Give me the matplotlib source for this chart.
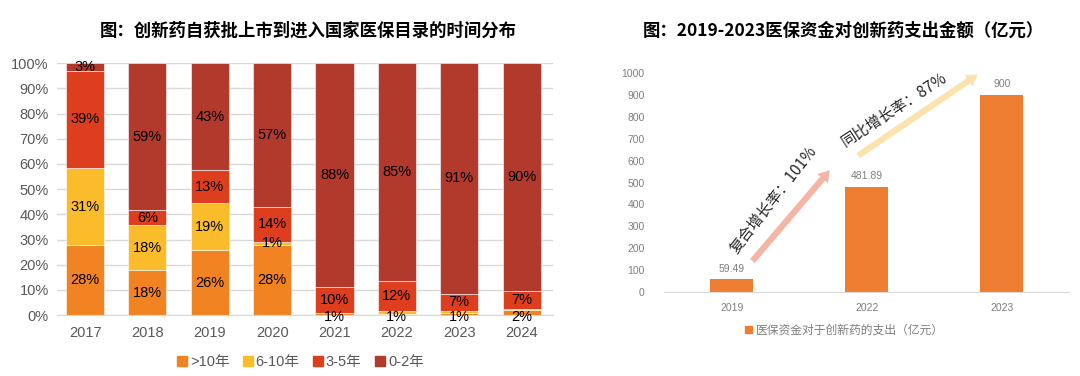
import numpy as np
import matplotlib
matplotlib.use("Agg")
import matplotlib.pyplot as plt
from matplotlib.patches import Patch

plt.rcParams["font.family"] = ["Liberation Sans", "Noto Sans CJK SC", "DejaVu Sans"]
CJK = ["Noto Sans CJK SC", "DejaVu Sans"]

# ---- left chart data: share of drugs by time from approval to NRDL listing ----
years = ["2017", "2018", "2019", "2020", "2021", "2022", "2023", "2024"]
series_names = [">10年", "6-10年", "3-5年", "0-2年"]
gt10 = [28, 18, 26, 28, 1, 0.5, 1, 2]
y6_10 = [31, 18, 19, 1, 0, 1, 0.5, 0.5]
y3_5 = [39, 6, 13, 14, 10, 12, 7, 7]
y0_2 = [3, 59, 43, 57, 88, 85, 91, 90]
left_colors = ["#F28322", "#FBBC2C", "#DD3E1D", "#B13A2D"]

# ---- right chart data: NRDL fund spending on innovative drugs (亿元) ----
spend_years = ["2019", "2022", "2023"]
spend = [59.49, 481.89, 900]
spend_labels = ["59.49", "481.89", "900"]

fig = plt.figure(figsize=(10.8, 3.76), dpi=100)

# ------------------------------------------------------------------
# Left: 100% stacked bars
# ------------------------------------------------------------------
ax1 = fig.add_axes([0.0528, 0.162, 0.459, 0.670])
raw = np.array([gt10, y6_10, y3_5, y0_2], dtype=float)
share = raw / raw.sum(axis=0) * 100
x = np.arange(len(years))
bottom = np.zeros(len(years))
for i, name in enumerate(series_names):
    ax1.bar(x, share[i], 0.61, bottom=bottom, color=left_colors[i],
            edgecolor="white", linewidth=0.4, label=name, zorder=2)
    for j in range(len(years)):
        if raw[i, j] >= 1:
            ymid = bottom[j] + share[i, j] / 2
            if bottom[j] < 3 and share[i, j] < 3:
                ymid = -0.6   # tiny bottom slices: label sits on the baseline
            ax1.text(x[j], ymid, f"{raw[i, j]:.0f}%", ha="center", va="center",
                     fontsize=10.5, color="black", zorder=3, clip_on=False)
    bottom += share[i]

ax1.set_xlim(-0.45, len(years) - 0.5)
ax1.set_ylim(0, 100)
ax1.set_yticks(np.arange(0, 101, 10))
ax1.set_yticklabels([f"{v}%" for v in range(0, 101, 10)])
ax1.set_xticks(x)
ax1.set_xticklabels(years)
ax1.tick_params(length=0, labelsize=10.5, colors="#595959", pad=6)
ax1.tick_params(axis="x", pad=8)
ax1.yaxis.grid(True, color="#D9D9D9", linewidth=1, zorder=0)
for s in ["top", "right", "left"]:
    ax1.spines[s].set_visible(False)
ax1.spines["bottom"].set_color("#D9D9D9")
ax1.set_axisbelow(True)

handles = [Patch(color=c) for c in left_colors]
fig.legend(handles, series_names, loc="center", bbox_to_anchor=(0.278, 0.037),
           ncol=4, frameon=False, fontsize=10.5, handlelength=0.7, handleheight=0.7,
           handletextpad=0.2, columnspacing=0.9, labelcolor="#595959")

fig.text(0.285, 0.918, "图：创新药自获批上市到进入国家医保目录的时间分布",
         ha="center", va="center", fontsize=12.5, fontweight="bold", family=CJK)

# ------------------------------------------------------------------
# Right: spending bars with growth arrows
# ------------------------------------------------------------------
ax2 = fig.add_axes([0.615, 0.223, 0.375, 0.583])
xs = np.arange(len(spend_years))
ax2.bar(xs, spend, 0.32, color="#ED7D31", zorder=2)
for xi, v, lab in zip(xs, spend, spend_labels):
    ax2.text(xi, v + 25, lab, ha="center", va="bottom", fontsize=7.5, color="#7F7F7F")
ax2.set_xlim(-0.5, 2.5)
ax2.set_ylim(0, 1000)
ax2.set_yticks(np.arange(0, 1001, 100))
ax2.set_xticks(xs)
ax2.set_xticklabels(spend_years)
ax2.tick_params(length=0, labelsize=7.5, colors="#7F7F7F", pad=8)
ax2.tick_params(axis="y", pad=14)
for s in ["top", "right", "left"]:
    ax2.spines[s].set_visible(False)
ax2.spines["bottom"].set_color("#D9D9D9")

ax2.annotate("", xy=(0.74, 566), xytext=(0.14, 132),
             arrowprops=dict(arrowstyle="simple,head_width=1.0,head_length=0.8,tail_width=0.45",
                             color="#F5B5A5", lw=0), zorder=1)
ax2.annotate("", xy=(1.84, 1000), xytext=(0.92, 616),
             arrowprops=dict(arrowstyle="simple,head_width=1.0,head_length=0.8,tail_width=0.45",
                             color="#FCE3AE", lw=0), zorder=1, annotation_clip=False)
ax2.text(0.31, 420, "复合增长率：101%", rotation=52, ha="center", va="center",
         fontsize=11, color="#262626", family=CJK, rotation_mode="anchor")
ax2.text(1.2, 831, "同比增长率：87%", rotation=33, ha="center", va="center",
         fontsize=11, color="#262626", family=CJK, rotation_mode="anchor")

fig.legend([Patch(color="#ED7D31")], ["医保资金对于创新药的支出（亿元）"], loc="center",
           bbox_to_anchor=(0.782, 0.122), frameon=False,
           handlelength=0.6, handleheight=0.6, handletextpad=0.3,
           labelcolor="#7F7F7F", prop={"family": CJK, "size": 8.5})

fig.text(0.781, 0.918, "图：2019-2023医保资金对创新药支出金额（亿元）",
         ha="center", va="center", fontsize=12.5, fontweight="bold", family=CJK)

fig.savefig("out.png", dpi=100)
